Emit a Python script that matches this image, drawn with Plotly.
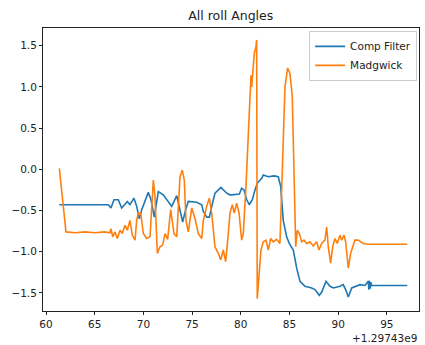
import plotly.graph_objects as go

# Time axis is stored relative to this offset (seconds)
OFFSET_LABEL = "+1.29743e9"

comp_t = [61.37, 66.40, 66.67, 66.98, 67.42, 67.77, 68.35, 68.62, 69.03, 69.31,
          69.58, 69.83, 70.50, 70.78, 71.12, 71.53, 72.04, 72.91, 73.42, 73.69,
          74.03, 74.34, 74.61, 75.47, 75.99, 76.15, 76.50, 76.77, 76.95, 77.18,
          77.35, 77.97, 78.38, 78.55, 78.89, 79.07, 79.85, 80.09, 80.33, 80.61,
          80.87, 81.18, 81.46, 81.69, 82.15, 82.31, 82.82, 83.41, 83.85, 84.10,
          84.36, 84.71, 84.98, 85.39, 85.74, 86.08, 86.59, 87.28, 87.62, 88.06,
          88.31, 88.75, 89.16, 89.50, 90.18, 90.52, 90.77, 91.04, 91.39, 91.90,
          92.24, 92.75, 93.09, 93.15, 93.20, 93.30, 93.35, 93.44, 97.09]
comp_roll = [-0.43, -0.43, -0.47, -0.37, -0.37, -0.47, -0.39, -0.43, -0.35, -0.45,
             -0.60, -0.49, -0.28, -0.37, -0.58, -0.27, -0.31, -0.45, -0.32, -0.45,
             -0.64, -0.49, -0.39, -0.40, -0.43, -0.51, -0.58, -0.58, -0.47, -0.37,
             -0.29, -0.22, -0.27, -0.29, -0.31, -0.31, -0.30, -0.23, -0.25, -0.37,
             -0.43, -0.37, -0.25, -0.17, -0.11, -0.07, -0.09, -0.08, -0.09, -0.21,
             -0.62, -0.82, -0.90, -0.98, -1.20, -1.36, -1.42, -1.44, -1.46, -1.53,
             -1.49, -1.36, -1.42, -1.44, -1.42, -1.40, -1.46, -1.55, -1.44, -1.42,
             -1.40, -1.41, -1.36, -1.46, -1.35, -1.45, -1.37, -1.41, -1.41]

madg_t = [61.37, 62.05, 63.00, 64.00, 65.00, 66.00, 66.57, 66.67, 66.85, 67.08,
          67.32, 67.60, 67.83, 68.11, 68.35, 68.62, 68.86, 69.14, 69.31, 69.48,
          69.72, 69.99, 70.34, 70.68, 71.02, 71.19, 71.43, 71.70, 71.98, 72.22,
          72.49, 72.80, 73.14, 73.42, 73.76, 73.99, 74.20, 74.37, 74.61, 74.96,
          75.30, 75.64, 75.99, 76.15, 76.50, 76.77, 77.01, 77.35, 77.69, 77.94,
          78.20, 78.45, 78.72, 78.89, 79.13, 79.33, 79.58, 79.82, 80.09, 80.26,
          80.53, 80.77, 80.94, 81.05, 81.12, 81.22, 81.39, 81.56, 81.63, 81.69,
          81.90, 82.07, 82.31, 82.59, 82.82, 83.07, 83.34, 83.69, 84.02, 84.20,
          84.36, 84.54, 84.81, 85.05, 85.29, 85.49, 85.64, 85.80, 86.01, 86.25,
          86.49, 86.77, 87.10, 87.44, 87.79, 88.03, 88.31, 88.64, 88.82, 88.98,
          89.23, 89.44, 89.67, 89.91, 90.18, 90.36, 90.60, 90.77, 91.04, 91.28,
          91.49, 91.72, 92.06, 92.58, 93.09, 97.09]
madg_roll = [0.01, -0.76, -0.77, -0.76, -0.77, -0.76, -0.77, -0.72, -0.82, -0.76,
             -0.84, -0.74, -0.78, -0.68, -0.74, -0.62, -0.80, -0.86, -0.62, -0.53,
             -0.53, -0.78, -0.84, -0.82, -0.13, -0.33, -1.02, -0.94, -0.92, -0.78,
             -0.85, -0.49, -0.78, -0.82, -0.09, -0.01, -0.13, -0.62, -0.76, -0.47,
             -0.60, -0.78, -0.84, -0.62, -0.45, -0.35, -0.53, -0.94, -1.02, -1.10,
             -0.98, -1.12, -0.78, -0.53, -0.43, -0.53, -0.41, -0.53, -0.86, -0.78,
             -0.21, 0.52, 0.88, 1.14, 1.00, 1.12, 1.41, 1.49, 1.57, -1.57,
             -1.18, -0.98, -0.88, -0.86, -0.98, -0.84, -0.88, -0.85, -0.90, -0.21,
             0.60, 1.00, 1.23, 1.16, 0.88, -0.21, -0.94, -0.74, -0.78, -0.88,
             -0.86, -0.90, -0.88, -0.93, -0.88, -0.98, -0.90, -0.86, -0.70, -0.94,
             -1.14, -0.94, -0.84, -0.90, -0.80, -0.86, -0.80, -0.88, -1.20, -1.02,
             -0.94, -0.86, -0.86, -0.90, -0.91, -0.91]

x_ticks = [60, 65, 70, 75, 80, 85, 90, 95]
y_ticks = [-1.5, -1.0, -0.5, 0.0, 0.5, 1.0, 1.5]
y_tick_text = ["\u22121.5", "\u22121.0", "\u22120.5", "0.0", "0.5", "1.0", "1.5"]

FONT = "DejaVu Sans"
INK = "#222222"

fig = go.Figure()
fig.add_trace(go.Scatter(x=comp_t, y=comp_roll, mode="lines", name="Comp Filter",
                         line=dict(color="#1f77b4", width=1.6)))
fig.add_trace(go.Scatter(x=madg_t, y=madg_roll, mode="lines", name="Madgwick",
                         line=dict(color="#ff7f0e", width=1.6)))

axis_common = dict(showline=True, mirror=True, linecolor=INK, linewidth=1,
                   ticks="outside", ticklen=3, tickwidth=1, tickcolor=INK,
                   showgrid=False, zeroline=False,
                   tickfont=dict(family=FONT, size=10.5, color=INK))

fig.update_layout(
    width=425, height=345,
    margin=dict(l=43, r=6, t=28, b=34),
    paper_bgcolor="white", plot_bgcolor="white",
    title=dict(text="All roll Angles", x=0.543, xanchor="center", y=0.955, yanchor="middle",
               font=dict(family=FONT, size=12.5, color=INK)),
    xaxis=dict(range=[59.69, 98.3], tickvals=x_ticks, ticktext=[str(v) for v in x_ticks],
               **axis_common),
    yaxis=dict(range=[-1.72, 1.715], tickvals=y_ticks, ticktext=y_tick_text, **axis_common),
    legend=dict(x=0.995, y=0.99, xanchor="right", yanchor="top",
                bgcolor="rgba(255,255,255,0.8)", bordercolor="#cccccc", borderwidth=1,
                font=dict(family=FONT, size=10.5, color=INK),
                itemwidth=30, tracegroupgap=0),
    showlegend=True,
    annotations=[dict(text=OFFSET_LABEL, xref="paper", yref="paper", x=1.0, y=-0.095,
                      xanchor="right", yanchor="middle", showarrow=False,
                      font=dict(family=FONT, size=10.5, color=INK))],
)

fig.write_html("out.html")
